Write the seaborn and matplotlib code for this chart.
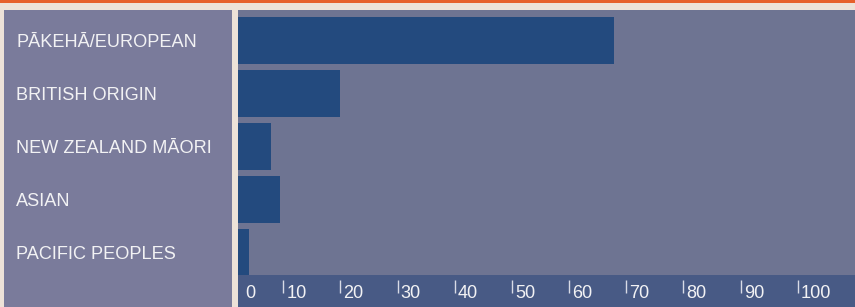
import matplotlib
matplotlib.use("Agg")
import matplotlib.pyplot as plt
import matplotlib.transforms as mtransforms
from matplotlib.patches import Rectangle
import seaborn as sns
import pandas as pd

# Data
categories = ["PĀKEHĀ/EUROPEAN", "BRITISH ORIGIN", "NEW ZEALAND MĀORI", "ASIAN", "PACIFIC PEOPLES"]
values = [67.8, 19.9, 7.9, 9.4, 4.0]
tick_values = [0, 10, 20, 30, 40, 50, 60, 70, 80, 90, 100]

df = pd.DataFrame({"group": categories, "pct": values})

# Colours
bg = "#ede2d8"
orange = "#e6602b"
panel = "#7a7b9b"
plot_bg = "#6e7492"
band = "#485a85"
bar_col = "#234a7e"
txt = "#f2f2f4"

sns.set_theme(style="white")
plt.rcParams["font.family"] = ["Liberation Sans", "DejaVu Sans"]

W, H = 855, 307
fig = plt.figure(figsize=(W / 100, H / 100), dpi=100, facecolor=bg)


def frac(x0, y0, x1, y1):
    # pixel box (top-left origin) -> figure fraction rect
    return [x0 / W, (H - y1) / H, (x1 - x0) / W, (y1 - y0) / H]


# orange strip on top
fig.patches.append(Rectangle((0, (H - 3) / H), 1, 3 / H, transform=fig.transFigure,
                             facecolor=orange, edgecolor="none", zorder=0))

ax = fig.add_axes(frac(238, 10, 855, 275))
ax_left = fig.add_axes(frac(4, 10, 232, 307))
ax_band = fig.add_axes(frac(238, 275, 855, 307), sharex=ax)

sns.barplot(data=df, x="pct", y="group", orient="h", color=bar_col, saturation=1,
            width=0.87, linewidth=0, ax=ax)
ax.set_facecolor(plot_bg)
ax.set_xlim(2.1, 110)
ax.set_ylim(4.425, -0.575)
ax.set_xlabel("")
ax.set_ylabel("")
ax.set_xticks([])
ax.set_yticks([])
sns.despine(ax=ax, left=True, bottom=True)

# left label panel (same row pitch as the bars, taller box)
ax_left.set_facecolor(panel)
ax_left.set_xlim(0, 1)
ax_left.set_ylim(5.028, -0.575)
ax_left.tick_params(left=False, bottom=False, labelleft=False, labelbottom=False)
for s in ax_left.spines.values():
    s.set_visible(False)
trans_l = mtransforms.blended_transform_factory(ax_left.transAxes, ax_left.transData)
for i, lab in enumerate(categories):
    # baseline sits half a cap height below the bar centre
    ax_left.text(0.053, i + 0.12, lab, transform=trans_l, ha="left", va="baseline",
                 fontsize=13.1, color=txt)

# bottom axis band
ax_band.set_facecolor(band)
ax_band.set_ylim(0, 1)
ax_band.tick_params(left=False, bottom=False, labelleft=False, labelbottom=False)
for s in ax_band.spines.values():
    s.set_visible(False)
trans_b = mtransforms.blended_transform_factory(ax_band.transData, ax_band.transAxes)
for v in tick_values:
    if v == 0:
        ax_band.text(0.011, 0.28, "0", transform=ax_band.transAxes, ha="left",
                     va="baseline", fontsize=13.1, color=txt)
        continue
    ax_band.vlines(v, 0.44, 0.84, transform=trans_b, color="#d8dbe6", lw=1)
    off = mtransforms.offset_copy(trans_b, fig=fig, x=3, y=0, units="dots")
    ax_band.text(v, 0.28, str(v), transform=off, ha="left", va="baseline",
                 fontsize=13.1, color=txt)

fig.savefig("out.png", dpi=100, facecolor=bg)
